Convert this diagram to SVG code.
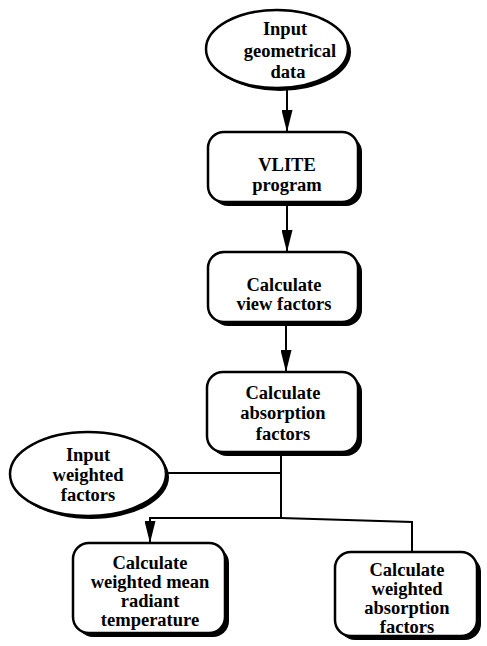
<svg xmlns="http://www.w3.org/2000/svg" width="487" height="646" viewBox="0 0 487 646">
<style>
.sh{fill:#000}
.nd{fill:#fff;stroke:#000;stroke-width:2.5}
.t{font-family:"Liberation Serif","Times New Roman",serif;font-weight:bold;font-size:18.5px;text-anchor:middle;fill:#000}
.c{fill:none;stroke:#000;stroke-width:2}
</style>
<defs>
<marker id="av" viewBox="0 0 11 22" refX="5.5" refY="22" markerWidth="11" markerHeight="22" markerUnits="userSpaceOnUse" orient="0">
<path d="M0,0 L11,0 L5.5,22 Z" fill="#000"/>
</marker>
</defs>
<g id="connectors">
<line class="c" x1="287" y1="87" x2="287" y2="132" marker-end="url(#av)"/>
<line class="c" x1="287" y1="206" x2="287" y2="252" marker-end="url(#av)"/>
<line class="c" x1="286" y1="326" x2="286" y2="372" marker-end="url(#av)"/>
<line class="c" x1="281" y1="456" x2="281" y2="519"/>
<line class="c" x1="167" y1="473" x2="281" y2="473"/>
<polyline class="c" points="150,519 150,518 281,518 412,522 412,552"/>
<line class="c" x1="150" y1="518" x2="150" y2="543" marker-end="url(#av)"/>
</g>
<g id="input-geometrical-data">
<ellipse class="sh" cx="280" cy="52" rx="71" ry="39"/>
<ellipse class="nd" cx="277" cy="49" rx="71" ry="39"/>
<text class="t" x="285" y="35">Input</text>
<text class="t" x="290" y="57">geometrical</text>
<text class="t" x="288" y="78">data</text>
</g>
<g id="vlite-program">
<rect class="sh" x="212" y="136" width="150" height="70" rx="16"/>
<rect class="nd" x="208" y="132" width="150" height="70" rx="16"/>
<text class="t" x="287" y="171">VLITE</text>
<text class="t" x="287" y="191">program</text>
</g>
<g id="calculate-view-factors">
<rect class="sh" x="212" y="256" width="150" height="70" rx="16"/>
<rect class="nd" x="208" y="252" width="150" height="70" rx="16"/>
<text class="t" x="284" y="291">Calculate</text>
<text class="t" x="284" y="310">view factors</text>
</g>
<g id="calculate-absorption-factors">
<rect class="sh" x="211" y="376" width="151" height="80" rx="16"/>
<rect class="nd" x="207" y="372" width="151" height="80" rx="16"/>
<text class="t" x="283" y="399">Calculate</text>
<text class="t" x="283" y="419">absorption</text>
<text class="t" x="283" y="440">factors</text>
</g>
<g id="input-weighted-factors">
<ellipse class="sh" cx="91" cy="477" rx="78" ry="42"/>
<ellipse class="nd" cx="88" cy="474" rx="78" ry="42"/>
<text class="t" x="88" y="461">Input</text>
<text class="t" x="88" y="481">weighted</text>
<text class="t" x="88" y="501">factors</text>
</g>
<g id="calculate-weighted-mean-radiant-temperature">
<rect class="sh" x="77" y="547" width="152" height="90" rx="16"/>
<rect class="nd" x="73" y="543" width="152" height="90" rx="16"/>
<text class="t" x="150" y="569">Calculate</text>
<text class="t" x="150" y="588">weighted mean</text>
<text class="t" x="150" y="607">radiant</text>
<text class="t" x="150" y="626">temperature</text>
</g>
<g id="calculate-weighted-absorption-factors">
<rect class="sh" x="339" y="556" width="142" height="84" rx="16"/>
<rect class="nd" x="335" y="552" width="142" height="84" rx="16"/>
<text class="t" x="407" y="576">Calculate</text>
<text class="t" x="407" y="595">weighted</text>
<text class="t" x="407" y="614">absorption</text>
<text class="t" x="407" y="633">factors</text>
</g>
</svg>
